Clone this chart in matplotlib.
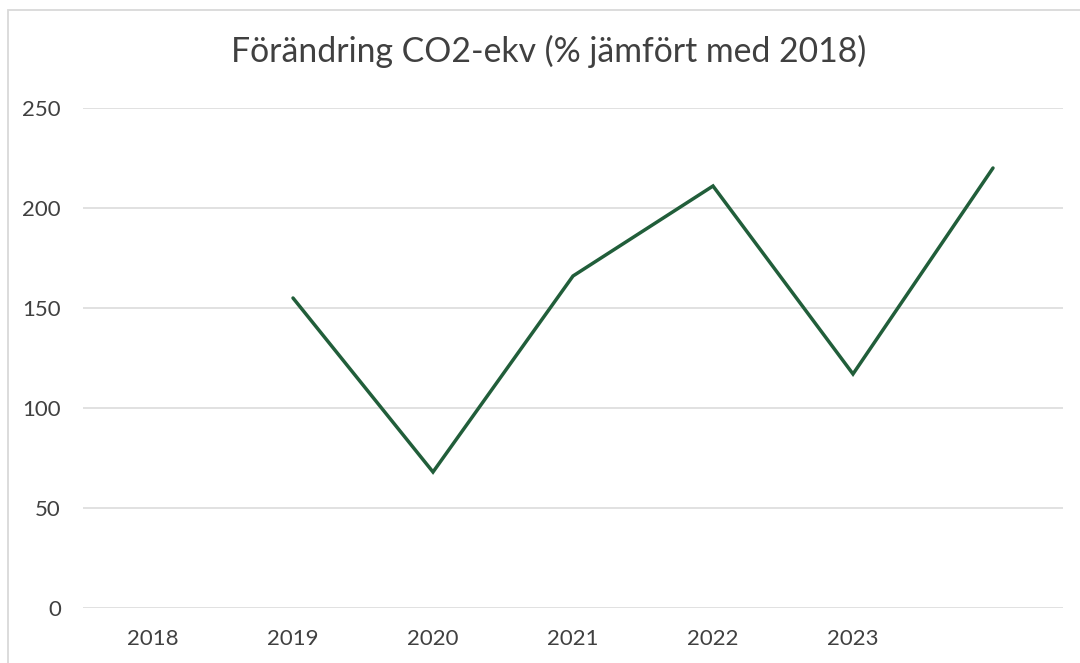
import numpy as np
import matplotlib.pyplot as plt
from matplotlib.patches import Rectangle

# === Data ===
years = ["2018", "2019", "2020", "2021", "2022", "2023", ""]
change = [np.nan, 155, 68, 166, 211, 117, 220]
y_ticks = [0, 50, 100, 150, 200, 250]
title = "Förändring CO2-ekv (% jämfört med 2018)"

W, H = 1080, 663
plt.rcParams['font.family'] = ['Lato', 'DejaVu Sans']

fig = plt.figure(figsize=(W / 100, H / 100), dpi=100)

# light chart-area border (cropped at right/bottom in the original)
fig.patches.append(Rectangle((7.5 / W, -0.2), 1.5, (H - 9.5) / H + 0.2,
                             transform=fig.transFigure, fill=False,
                             edgecolor="#D9D9D9", linewidth=1.3))

ax = fig.add_axes([83 / W, (H - 608) / H, 980 / W, 500 / H])

x = np.arange(len(years))
ax.plot(x, change, color="#215E3A", linewidth=2.5, solid_capstyle="round",
        solid_joinstyle="miter")

ax.set_xlim(-0.5, len(years) - 0.5)
ax.set_ylim(0, 250)
ax.set_yticks(y_ticks)
ax.set_xticks(x)
ax.set_xticklabels(years)

ax.grid(axis="y", color="#D9D9D9", linewidth=1.1)
ax.set_axisbelow(True)
for s in ax.spines.values():
    s.set_visible(False)
ax.tick_params(length=0, labelsize=16, colors="#404040")
ax.tick_params(axis="y", pad=16)
ax.tick_params(axis="x", pad=15)

fig.text(549 / W, (H - 62) / H, title, ha="center", va="baseline",
         fontsize=24.3, color="#404040")

fig.savefig("out.png", dpi=100)
